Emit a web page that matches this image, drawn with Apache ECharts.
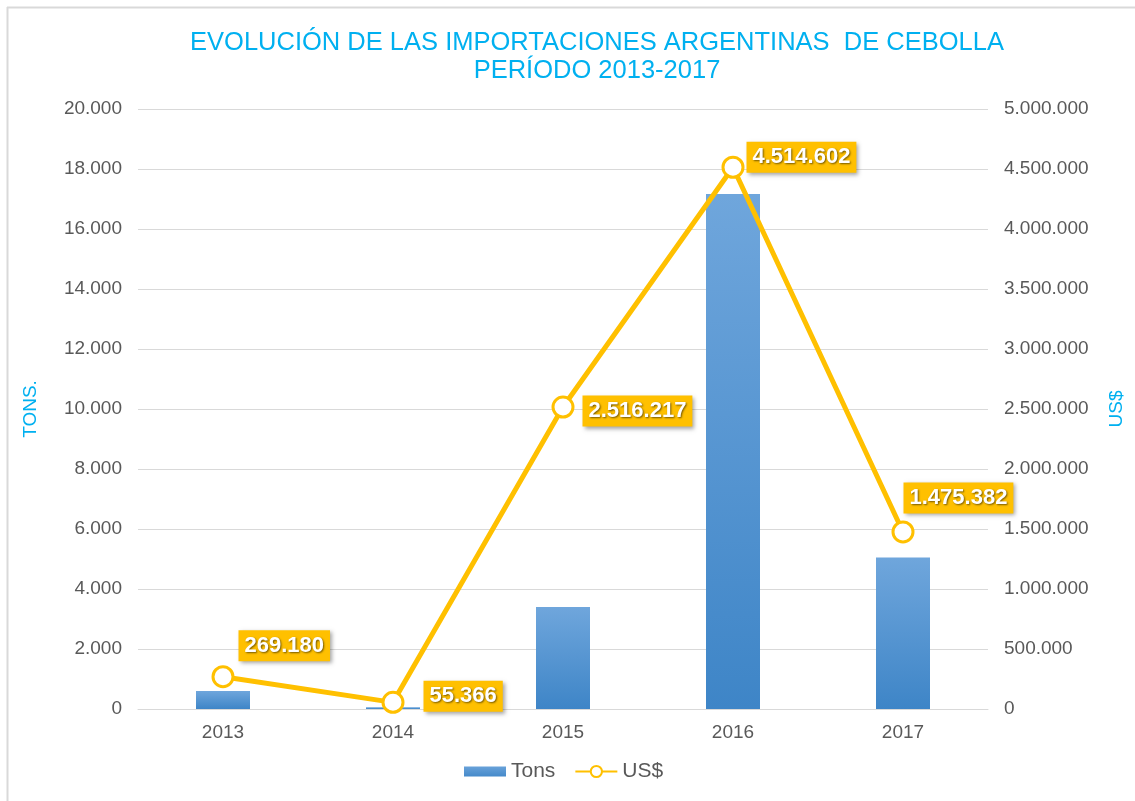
<!DOCTYPE html>
<html>
<head>
	<meta charset="utf-8">
	<title>Importaciones de cebolla</title>
	<script src="https://cdn.jsdelivr.net/npm/echarts@6/dist/echarts.min.js"></script>
	<style type="text/css">
		html,body{
			margin: 0;
			width: 100%;
			height: 100%;
			background: #fff;
			overflow: hidden;
		}
		#main{
			width: 1135px;
			height: 801px;
		}
	</style>
</head>
<body>
<div id="main"></div>
<script>
    // años (eje x)
    var years = ['2013', '2014', '2015', '2016', '2017'];
    // toneladas (eje izquierdo)
    var tons = [600, 60, 3400, 17170, 5050];
    // valor en US$ (eje derecho)
    var usd = [269180, 55366, 2516217, 4514602, 1475382];

    // desplazamiento de cada etiqueta respecto al punto
    var labelOffsets = [[-1, -31], [14, -6], [3, 4], [-3, -10], [-16, -34]];

    var font = 'Liberation Sans, Arial, sans-serif';
    var gold = '#FFC000';
    var cyan = '#00B0F0';

    // 1234567 -> 1.234.567
    function fmt(v) {
        return String(Math.round(v)).replace(/\B(?=(\d{3})+(?!\d))/g, '.');
    }

    var usdData = [];
    for (var i = 0; i < usd.length; i++) {
        usdData.push({
            value: usd[i],
            label: { offset: labelOffsets[i] }
        });
    }

    var myChart = echarts.init(document.getElementById('main'));
    var option = {
        backgroundColor: '#fff',
        animation: false,
        title: {
            text: 'EVOLUCIÓN DE LAS IMPORTACIONES ARGENTINAS  DE CEBOLLA\nPERÍODO 2013-2017',
            left: 592,
            textAlign: 'center',
            top: 24,
            textStyle: {
                color: cyan,
                fontFamily: font,
                fontWeight: 'normal',
                fontSize: 25.5,
                lineHeight: 28
            }
        },
        graphic: [
            { type: 'line', shape: { x1: 7.5, y1: 7, x2: 7.5, y2: 801 }, style: { stroke: '#d9d9d9', lineWidth: 2 } },
            { type: 'line', shape: { x1: 7, y1: 7.5, x2: 1135, y2: 7.5 }, style: { stroke: '#d9d9d9', lineWidth: 2 } }
        ],
        legend: {
            bottom: 14,
            left: 459,
            itemGap: 19,
            itemWidth: 42,
            itemHeight: 14,
            textStyle: { color: '#595959', fontFamily: font, fontSize: 21 },
            data: [
                { name: 'Tons', icon: 'path://M0,0h0.01v14h-0.01z M0,2h42v10h-42z' },
                { name: 'US$' }
            ]
        },
        grid: {
            left: 138,
            right: 147,
            top: 109,
            bottom: 92
        },
        xAxis: [
            {
                type: 'category',
                data: years,
                axisTick: { show: false },
                axisLine: { lineStyle: { color: '#d9d9d9', width: 1 } },
                axisLabel: { color: '#595959', fontFamily: font, fontSize: 19, margin: 14 }
            }
        ],
        yAxis: [
            {
                type: 'value',
                name: 'TONS.',
                nameLocation: 'middle',
                nameRotate: 90,
                nameGap: 98,
                nameTextStyle: { color: cyan, fontFamily: font, fontSize: 19 },
                min: 0,
                max: 20000,
                interval: 2000,
                axisLine: { show: false },
                axisTick: { show: false },
                splitLine: { lineStyle: { color: '#d9d9d9' } },
                axisLabel: { color: '#595959', fontFamily: font, fontSize: 19, margin: 16, formatter: fmt }
            },
            {
                type: 'value',
                name: 'US$',
                nameLocation: 'middle',
                nameRotate: 90,
                nameGap: 119,
                nameTextStyle: { color: cyan, fontFamily: font, fontSize: 19 },
                min: 0,
                max: 5000000,
                interval: 500000,
                axisLine: { show: false },
                axisTick: { show: false },
                splitLine: { show: false },
                axisLabel: { color: '#595959', fontFamily: font, fontSize: 19, margin: 16, formatter: fmt }
            }
        ],
        series: [
            {
                name: 'Tons',
                type: 'bar',
                barWidth: 54,
                data: tons,
                itemStyle: {
                    color: new echarts.graphic.LinearGradient(0, 0, 0, 1, [
                        { offset: 0, color: '#6fa6dc' },
                        { offset: 1, color: '#3e85c7' }
                    ])
                }
            },
            {
                name: 'US$',
                type: 'line',
                yAxisIndex: 1,
                data: usdData,
                symbol: 'circle',
                symbolSize: 20,
                lineStyle: { color: gold, width: 5 },
                itemStyle: { color: '#fff', borderColor: gold, borderWidth: 3 },
                z: 3,
                label: {
                    show: true,
                    position: 'right',
                    distance: 5,
                    formatter: function (p) { return fmt(p.value); },
                    color: '#fff',
                    fontFamily: font,
                    fontWeight: 'bold',
                    fontSize: 22,
                    backgroundColor: gold,
                    padding: [5, 6, 4, 6],
                    textShadowColor: 'rgba(0,0,0,0.55)',
                    textShadowBlur: 2,
                    textShadowOffsetX: 1,
                    textShadowOffsetY: 1,
                    shadowColor: 'rgba(0,0,0,0.35)',
                    shadowBlur: 4,
                    shadowOffsetX: 2,
                    shadowOffsetY: 2
                }
            }
        ]
    };
    myChart.setOption(option);
</script>
</body>
</html>
